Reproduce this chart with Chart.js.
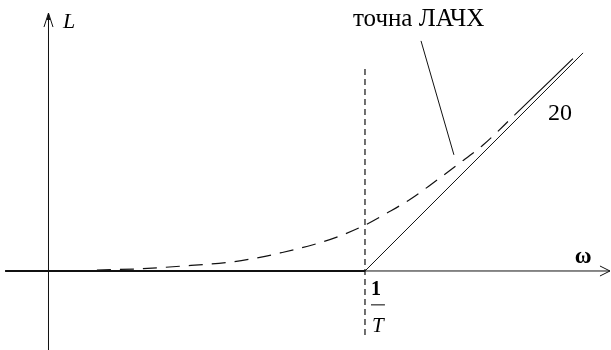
<!DOCTYPE html>
<html>
<head>
<meta charset="utf-8">
<script src="https://cdn.jsdelivr.net/npm/chart.js@4"></script>
<style>
  html, body { margin: 0; padding: 0; background: #fff; }
  #wrap { width: 611px; height: 350px; position: relative; }
</style>
</head>
<body>
<div id="wrap"><canvas id="lachx"></canvas></div>
<script>
// ω in units of 1/T, L scaled so the 20 dB/dec asymptote runs at 45°
const breakFreq = 1;

// asymptotic LAFC: flat part, then +20 slope after 1/T
const lowW = [-0.137, breakFreq];
const lowL = [0, 0];
const highW = [breakFreq, 1.689];
const highL = [0, 0.689];

// exact LAFC (dashed)
const exactW = [0.153, 0.289, 0.415, 0.573, 0.668, 0.732, 0.836, 0.911, 1.0, 1.069, 1.142, 1.215, 1.291, 1.373, 1.474, 1.657];
const exactL = [0.003, 0.007, 0.015, 0.028, 0.043, 0.057, 0.083, 0.107, 0.145, 0.183, 0.226, 0.278, 0.335, 0.398, 0.494, 0.671];

// vertical marker at ω = 1/T
const markW = [breakFreq, breakFreq];
const markL = [-0.202, 0.641];

// leader from the caption to the exact curve
const leaderW = [1.177, 1.281];
const leaderL = [0.727, 0.367];

// axis extents
const axisW = [-0.137, 1.774];
const axisL = [-0.3, 0.815];

const captionText = 'точна ЛАЧХ';
const slopeText = '20';

const pts = (xs, ys) => xs.map((v, i) => ({x: v, y: ys[i]}));

const ink = '#111';
const serif = '"Liberation Serif", "DejaVu Serif", serif';

const axesAndLabels = {
  id: 'axesAndLabels',
  beforeDatasetsDraw(chart) {
    const {ctx, scales: {x, y}} = chart;
    const x0 = x.getPixelForValue(0);
    const y0 = y.getPixelForValue(0);
    const xEnd = x.getPixelForValue(axisW[1]);
    const yTop = y.getPixelForValue(axisL[1]);
    ctx.save();
    ctx.strokeStyle = ink;
    ctx.fillStyle = ink;
    ctx.lineWidth = 1;
    ctx.beginPath();
    ctx.moveTo(x.getPixelForValue(axisW[0]), y0);
    ctx.lineTo(xEnd, y0);
    ctx.moveTo(x0, y.getPixelForValue(axisL[0]));
    ctx.lineTo(x0, yTop);
    ctx.stroke();
    // arrow heads
    ctx.beginPath();
    ctx.moveTo(x0 - 4.5, yTop + 14);
    ctx.lineTo(x0, yTop);
    ctx.lineTo(x0 + 4.5, yTop + 14);
    ctx.moveTo(xEnd - 10, y0 - 5);
    ctx.lineTo(xEnd, y0);
    ctx.lineTo(xEnd - 10, y0 + 5);
    ctx.stroke();
    ctx.beginPath();
    ctx.moveTo(x0, yTop);
    ctx.lineTo(x0 - 2, yTop + 7);
    ctx.lineTo(x0 + 2, yTop + 7);
    ctx.closePath();
    ctx.fill();
    ctx.restore();
  },
  afterDatasetsDraw(chart) {
    const {ctx, scales: {x, y}} = chart;
    const px = v => x.getPixelForValue(v);
    const py = v => y.getPixelForValue(v);
    ctx.save();
    ctx.fillStyle = '#000';
    ctx.textBaseline = 'alphabetic';
    ctx.textAlign = 'left';

    ctx.font = 'italic 22px ' + serif;
    ctx.fillText('L', px(0.046), py(0.768));

    ctx.font = 'bold 23px ' + serif;
    ctx.fillText('ω', px(1.663), py(0.025));

    ctx.font = '25px ' + serif;
    ctx.fillText(captionText, px(0.962), py(0.774));

    ctx.font = '24px ' + serif;
    ctx.fillText(slopeText, px(1.578), py(0.477));

    // 1/T written as a fraction under the break point
    ctx.textAlign = 'center';
    ctx.font = 'bold 20px ' + serif;
    ctx.fillText('1', px(1.035), py(-0.076));
    ctx.strokeStyle = '#000';
    ctx.lineWidth = 1;
    ctx.beginPath();
    ctx.moveTo(px(1.019), py(-0.107));
    ctx.lineTo(px(1.063), py(-0.107));
    ctx.stroke();
    ctx.font = 'italic 21px ' + serif;
    ctx.fillText('T', px(1.041), py(-0.193));
    ctx.restore();
  }
};

const line = (data, width, extra) => Object.assign({
  data, showLine: true, borderColor: ink, borderWidth: width,
  pointRadius: 0, fill: false
}, extra || {});

new Chart(document.getElementById('lachx'), {
  type: 'scatter',
  data: {
    datasets: [
      line(pts(lowW, lowL), 2.2),
      line(pts(highW, highL), 1),
      line(pts(markW, markL), 1.2, {borderDash: [6, 4]}),
      line(pts(leaderW, leaderL), 1),
      line(pts(exactW, exactL), 1.2, {
        borderDash: [14, 9],
        tension: 0.4,
        cubicInterpolationMode: 'monotone',
        segment: {borderDash: c => c.p0.parsed.x >= 1.47 ? [] : undefined}
      })
    ]
  },
  options: {
    responsive: true,
    maintainAspectRatio: false,
    animation: false,
    layout: {padding: 0},
    plugins: {legend: {display: false}, tooltip: {enabled: false}},
    scales: {
      x: {type: 'linear', display: false, min: -0.1532, max: 1.7773},
      y: {type: 'linear', display: false, min: -0.2496, max: 0.8562}
    }
  },
  plugins: [axesAndLabels]
});
</script>
</body>
</html>
